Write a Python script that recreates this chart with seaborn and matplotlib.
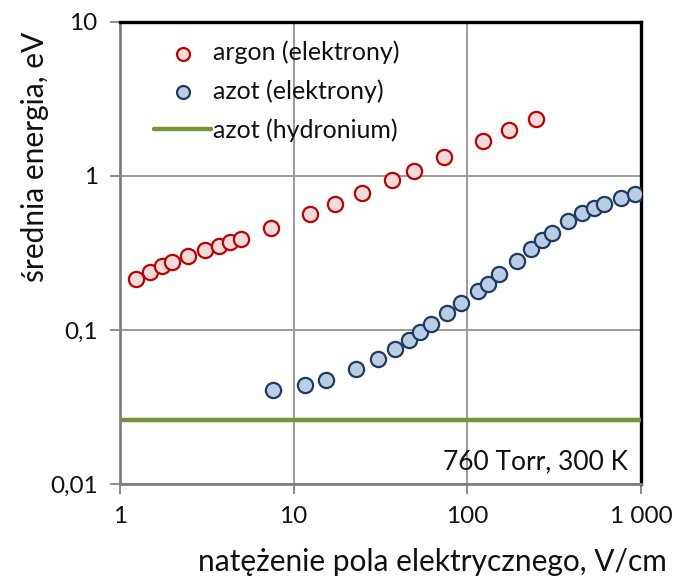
import matplotlib
matplotlib.use("Agg")
import matplotlib.pyplot as plt
import seaborn as sns
import pandas as pd
from matplotlib.ticker import FixedLocator, NullLocator

# ---- data ----
argon_field = [1.24, 1.49, 1.74, 1.99, 2.46, 3.10, 3.71, 4.31, 4.95, 7.40,
               12.4, 17.3, 24.7, 36.9, 49.3, 73.6, 123, 173, 247]
argon_energy = [0.2135, 0.239, 0.259, 0.276, 0.303, 0.331, 0.352, 0.374, 0.392, 0.459,
                0.567, 0.658, 0.779, 0.942, 1.08, 1.32, 1.69, 1.99, 2.34]

nitrogen_field = [7.63, 11.6, 15.3, 22.8, 30.5, 38.3, 45.9, 53.3, 61.5, 76.6, 92.2,
                  114.6, 131, 152.7, 192.3, 231.4, 267.7, 305.8, 381, 457, 534, 609, 766, 923]
nitrogen_energy = [0.0407, 0.0437, 0.0474, 0.0556, 0.0649, 0.0757, 0.0866, 0.0976, 0.1094,
                   0.1294, 0.149, 0.179, 0.199, 0.230, 0.281, 0.334, 0.384, 0.428, 0.513,
                   0.573, 0.622, 0.661, 0.723, 0.768]

hydronium_field = [1, 1000]
hydronium_energy = [0.026, 0.026]

x_ticks = [1, 10, 100, 1000]
x_tick_labels = ["1", "10", "100", "1 000"]
y_ticks = [0.01, 0.1, 1, 10]
y_tick_labels = ["0,01", "0,1", "1", "10"]

labels = ["argon (elektrony)", "azot (elektrony)", "azot (hydronium)"]

# ---- style ----
sns.set_style("white")
plt.rcParams["font.family"] = ["Lato", "DejaVu Sans"]

fig = plt.figure(figsize=(6.74, 5.76), dpi=100)
ax = fig.add_axes([120 / 674, 1 - 484 / 576, (641 - 120) / 674, (484 - 22) / 576])

df_ar = pd.DataFrame({"E": argon_field, "en": argon_energy})
df_n = pd.DataFrame({"E": nitrogen_field, "en": nitrogen_energy})
df_h = pd.DataFrame({"E": hydronium_field, "en": hydronium_energy})

sns.lineplot(data=df_h, x="E", y="en", ax=ax, color="#77933C", linewidth=3.2,
             label=labels[2], zorder=3)
sns.scatterplot(data=df_ar, x="E", y="en", ax=ax, s=120, color="#F2DCDB",
                edgecolor="#C00000", linewidth=1.6, label=labels[0], zorder=4)
sns.scatterplot(data=df_n, x="E", y="en", ax=ax, s=120, color="#B9CDE5",
                edgecolor="#1F3B63", linewidth=1.6, label=labels[1], zorder=4)

ax.set_xscale("log")
ax.set_yscale("log")
ax.set_xlim(1, 1000)
ax.set_ylim(0.01, 10)

ax.xaxis.set_major_locator(FixedLocator(x_ticks))
ax.yaxis.set_major_locator(FixedLocator(y_ticks))
ax.xaxis.set_minor_locator(NullLocator())
ax.yaxis.set_minor_locator(NullLocator())
ax.set_xticklabels(x_tick_labels)
ax.set_yticklabels(y_tick_labels)

ax.grid(True, which="major", color="#9A9A9A", linewidth=1.4)
ax.set_axisbelow(True)

ax.tick_params(axis="both", which="major", direction="out", length=7, width=1.4,
               color="#8C8C8C", labelsize=17.5, labelcolor="#111111")
ax.tick_params(axis="y", pad=9)
ax.tick_params(axis="x", pad=9)
ax.tick_params(left=True, bottom=True)

for side in ["left", "bottom"]:
    ax.spines[side].set_color("#7F7F7F")
    ax.spines[side].set_linewidth(2.0)
for side in ["top", "right"]:
    ax.spines[side].set_color("#000000")
    ax.spines[side].set_linewidth(2.4)

ax.set_xlabel("natężenie pola elektrycznego, V/cm", fontsize=21.5, color="#111111")
ax.set_ylabel("średnia energia, eV", fontsize=21.5, color="#111111")
ax.xaxis.set_label_coords(0.60, -0.168)
ax.xaxis.label.set_verticalalignment("center")
ax.yaxis.set_label_coords(-0.163, 0.708)
ax.yaxis.label.set_verticalalignment("center")

ax.text(0.975, 0.048, "760 Torr, 300 K", transform=ax.transAxes, ha="right",
        va="center", fontsize=19, color="#111111")

handles, labs = ax.get_legend_handles_labels()
order = [labs.index(l) for l in labels]
leg = ax.legend([handles[i] for i in order], [labs[i] for i in order],
                loc="upper left", bbox_to_anchor=(0.03, 1.0), frameon=False,
                fontsize=18, handlelength=2.25, handletextpad=0.1,
                labelspacing=0.6, borderpad=0.25, markerscale=0.85)
for t in leg.get_texts():
    t.set_color("#111111")

fig.savefig("out.png", dpi=100, facecolor="white")
